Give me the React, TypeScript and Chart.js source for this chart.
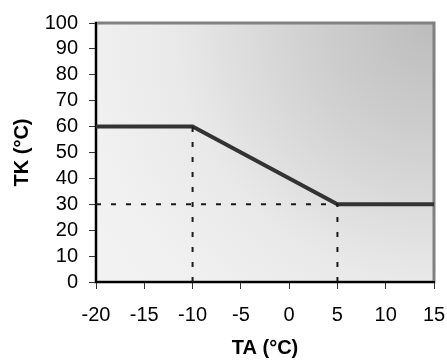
import React, { useEffect, useRef } from "react";
import { Chart, registerables } from "chart.js";

Chart.register(...registerables);

const taPoints = [-20, -10, 5, 15];
const tkPoints = [60, 60, 30, 30];
const xTicks = [-20, -15, -10, -5, 0, 5, 10, 15];
const yTicks = [0, 10, 20, 30, 40, 50, 60, 70, 80, 90, 100];
const xTitle = "TA (°C)";
const yTitle = "TK (°C)";

const bgPlugin = {
  id: "bgPlugin",
  beforeDraw(chart: any) {
    const { ctx, chartArea } = chart;
    const { left, right, top, bottom } = chartArea;
    ctx.save();
    const g = ctx.createRadialGradient(right, top, 0, right, top, 430);
    g.addColorStop(0, "#bcbcbc");
    g.addColorStop(0.3, "#d1d1d1");
    g.addColorStop(0.6, "#e9e9e9");
    g.addColorStop(0.8, "#f0f0f0");
    g.addColorStop(1, "#f3f3f3");
    ctx.fillStyle = g;
    ctx.fillRect(left, top, right - left, bottom - top);
    ctx.strokeStyle = "#808080";
    ctx.lineWidth = 3;
    ctx.strokeRect(left, top, right - left, bottom - top);
    ctx.restore();
  },
};

export default function App() {
  const ref = useRef<HTMLCanvasElement>(null);
  useEffect(() => {
    const font = { family: "'Liberation Sans', Arial, sans-serif", size: 20, lineHeight: 1.1 };
    const line = taPoints.map((x, i) => ({ x, y: tkPoints[i] }));
    const guideStyle = {
      borderColor: "#1a1a1a",
      borderWidth: 2,
      borderDash: [5, 10],
      pointRadius: 0,
      fill: false,
    };
    const chart = new Chart(ref.current!, {
      type: "line",
      plugins: [bgPlugin],
      data: {
        datasets: [
          { ...guideStyle, data: [{ x: taPoints[1], y: 0 }, { x: taPoints[1], y: tkPoints[1] }] },
          { ...guideStyle, data: [{ x: taPoints[2], y: 0 }, { x: taPoints[2], y: tkPoints[2] }] },
          { ...guideStyle, data: [{ x: taPoints[0], y: tkPoints[2] }, { x: taPoints[2], y: tkPoints[2] }] },
          {
            data: line,
            borderColor: "#333333",
            borderWidth: 4,
            pointRadius: 0,
            fill: false,
            tension: 0,
          },
        ],
      },
      options: {
        animation: false,
        responsive: false,
        maintainAspectRatio: false,
        layout: { padding: { top: 23, right: 13, left: 0, bottom: 0 } },
        plugins: { legend: { display: false }, tooltip: { enabled: false } },
        scales: {
          x: {
            type: "linear",
            min: xTicks[0],
            max: xTicks[xTicks.length - 1],
            afterFit(s: any) { s.height = 78; s.paddingLeft = 0; s.paddingRight = 0; },
            afterBuildTicks(s: any) { s.ticks = xTicks.map((v) => ({ value: v })); },
            ticks: { font, color: "#000", padding: 15, maxRotation: 0, autoSkip: false },
            grid: { drawOnChartArea: false, drawTicks: true, tickLength: 7, color: "#333", lineWidth: 1 },
            border: { color: "#000", width: 2 },
            title: { display: true, text: xTitle, font: { ...font, weight: "bold", lineHeight: 1.2 }, color: "#000", padding: { top: 0, bottom: 0 } },
          },
          y: {
            type: "linear",
            min: yTicks[0],
            max: yTicks[yTicks.length - 1],
            afterFit(s: any) { s.width = 96; s.paddingTop = 0; s.paddingBottom = 0; },
            afterBuildTicks(s: any) { s.ticks = yTicks.map((v) => ({ value: v })); },
            ticks: { font, color: "#000", padding: 11, autoSkip: false },
            grid: { drawOnChartArea: false, drawTicks: true, tickLength: 7, color: "#333", lineWidth: 1 },
            border: { color: "#000", width: 2 },
            title: { display: true, text: yTitle, font: { ...font, weight: "bold", lineHeight: 1.2 }, color: "#000", padding: { top: 10, bottom: 0 } },
          },
        },
      },
    } as any);
    return () => chart.destroy();
  }, []);
  return (
    <div style={{ position: "fixed", left: 0, top: 0, width: 447, height: 360, background: "#fff" }}>
      <canvas ref={ref} width={447} height={360} style={{ display: "block" }} />
    </div>
  );
}
